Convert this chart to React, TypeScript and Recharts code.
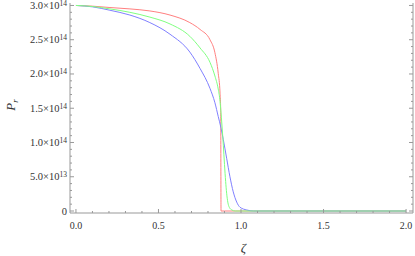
import { LineChart, Line, XAxis, YAxis } from 'recharts';

// pressure in units of 1e14
const zetaRed = [0, 0.1, 0.206, 0.327, 0.448, 0.57, 0.69, 0.752, 0.812, 0.842, 0.862, 0.873, 0.877, 0.879, 0.9, 1.0, 1.5, 2.0];
const pRed = [3.0, 2.99, 2.97, 2.95, 2.92, 2.86, 2.75, 2.65, 2.5, 2.31, 2.01, 1.72, 1.47, 0, 0, 0, 0, 0];

const zetaGreen = [0, 0.1, 0.206, 0.327, 0.448, 0.57, 0.69, 0.752, 0.812, 0.842, 0.862, 0.873, 0.877, 0.885, 0.893, 0.9, 0.907, 0.913, 0.92, 0.93, 0.945, 0.965, 1.0, 1.5, 2.0];
const pGreen = [3.0, 2.985, 2.95, 2.9, 2.83, 2.73, 2.55, 2.38, 2.17, 1.97, 1.78, 1.6, 1.49, 1.24, 0.96, 0.68, 0.43, 0.26, 0.13, 0.05, 0.015, 0, 0, 0, 0];

const zetaBlue = [0, 0.1, 0.206, 0.327, 0.448, 0.57, 0.69, 0.752, 0.812, 0.842, 0.862, 0.878, 0.893, 0.913, 0.933, 0.953, 0.974, 0.994, 1.035, 1.075, 1.2, 1.5, 2.0];
const pBlue = [3.0, 2.98, 2.93, 2.86, 2.75, 2.58, 2.32, 2.08, 1.79, 1.58, 1.38, 1.22, 1.04, 0.77, 0.5, 0.28, 0.13, 0.055, 0.015, 0, 0, 0, 0];

const xMajor = [0, 0.5, 1, 1.5, 2];
const xLabels = ['0.0', '0.5', '1.0', '1.5', '2.0'];
const yMajor = [0, 0.5, 1, 1.5, 2, 2.5, 3];
const yMant = ['0', '5.0', '1.0', '1.5', '2.0', '2.5', '3.0'];
const yExp = ['', '13', '14', '14', '14', '14', '14'];

const xTicks = Array.from({ length: 21 }, (_, i) => i / 10);
const yTicks = Array.from({ length: 31 }, (_, i) => i / 10);

const toRows = (zs: number[], ps: number[]) => zs.map((z, i) => ({ z, p: ps[i] }));
const redData = toRows(zetaRed, pRed);
const greenData = toRows(zetaGreen, pGreen);
const blueData = toRows(zetaBlue, pBlue);

const frame = '#999';
const font = '"Liberation Serif", "DejaVu Serif", serif';

const majorIndex = (list: number[], v: number) => list.findIndex(m => Math.abs(m - v) < 1e-6);

function FrameTick(props: any) {
  const { x, y, payload, side } = props;
  const v = payload.value;
  const idx = majorIndex(side === 'bottom' || side === 'top' ? xMajor : yMajor, v);
  const len = idx >= 0 ? 4 : 2;
  if (side === 'bottom' || side === 'top') {
    const dir = side === 'bottom' ? -1 : 1;
    return (
      <g>
        <line x1={x} y1={y} x2={x} y2={y + dir * len} stroke={frame} strokeWidth={1} />
        {side === 'bottom' && idx >= 0 && (
          <text x={x} y={y + 16} textAnchor="middle" fontSize={10} fontFamily={font} fill="#333">
            {xLabels[idx]}
          </text>
        )}
      </g>
    );
  }
  const dir = side === 'left' ? 1 : -1;
  return (
    <g>
      <line x1={x} y1={y} x2={x + dir * len} y2={y} stroke={frame} strokeWidth={1} />
      {side === 'left' && idx >= 0 && (
        <text x={x - 3} y={y + 3.5} textAnchor="end" fontSize={10.5} fontFamily={font} fill="#333">
          {yMant[idx]}
          {yExp[idx] && (
            <>
              ×10<tspan dy={-3} fontSize={7.5}>{yExp[idx]}</tspan>
            </>
          )}
        </text>
      )}
    </g>
  );
}

const ZetaLabel = (props: any) => {
  const { viewBox } = props;
  return (
    <text x={viewBox.x + viewBox.width / 2 + 2} y={viewBox.y + 39} textAnchor="middle" fontSize={13} fontStyle="italic" fontFamily={font} fill="#333">
      ζ
    </text>
  );
};

const PLabel = (props: any) => {
  const { viewBox } = props;
  const cx = 15;
  const cy = viewBox.y + viewBox.height / 2 - 3;
  return (
    <text x={cx} y={cy} transform={`rotate(-90 ${cx} ${cy})`} textAnchor="middle" fontSize={13} fontStyle="italic" fontFamily={font} fill="#333">
      P<tspan dy={3} fontSize={9}>r</tspan>
    </text>
  );
};

export default function App() {
  return (
    <div style={{ position: 'absolute', left: 0, top: 0, background: '#fff' }}>
      <LineChart width={415} height={256} margin={{ top: 3, right: 0, bottom: 0, left: 0 }}>
        <XAxis
          xAxisId="b"
          type="number"
          dataKey="z"
          domain={[-0.036, 2.042]}
          allowDataOverflow
          ticks={xTicks}
          interval={0}
          height={43}
          tickSize={0}
          tickMargin={0}
          tickLine={false}
          axisLine={{ stroke: frame }}
          tick={(p: any) => <FrameTick {...p} side="bottom" />}
          label={<ZetaLabel />}
        />
        <XAxis
          xAxisId="t"
          orientation="top"
          type="number"
          dataKey="z"
          domain={[-0.036, 2.042]}
          allowDataOverflow
          ticks={xTicks}
          interval={0}
          height={0}
          tickSize={0}
          tickMargin={0}
          tickLine={false}
          axisLine={{ stroke: frame }}
          tick={(p: any) => <FrameTick {...p} side="top" />}
        />
        <YAxis
          yAxisId="l"
          type="number"
          domain={[-0.029, 3.036]}
          allowDataOverflow
          ticks={yTicks}
          interval={0}
          width={70}
          tickSize={0}
          tickMargin={0}
          tickLine={false}
          axisLine={{ stroke: frame }}
          tick={(p: any) => <FrameTick {...p} side="left" />}
          label={<PLabel />}
        />
        <YAxis
          yAxisId="r"
          orientation="right"
          type="number"
          domain={[-0.029, 3.036]}
          allowDataOverflow
          ticks={yTicks}
          interval={0}
          width={2}
          tickSize={0}
          tickMargin={0}
          tickLine={false}
          axisLine={{ stroke: frame }}
          tick={(p: any) => <FrameTick {...p} side="right" />}
        />
        <Line xAxisId="b" yAxisId="l" data={redData} dataKey="p" type="monotone" stroke="#ff8080" strokeWidth={1} dot={false} isAnimationActive={false} />
        <Line xAxisId="b" yAxisId="l" data={blueData} dataKey="p" type="monotone" stroke="#8080ff" strokeWidth={1} dot={false} isAnimationActive={false} />
        <Line xAxisId="b" yAxisId="l" data={greenData} dataKey="p" type="monotone" stroke="#80ff80" strokeWidth={1} dot={false} isAnimationActive={false} />
      </LineChart>
    </div>
  );
}
